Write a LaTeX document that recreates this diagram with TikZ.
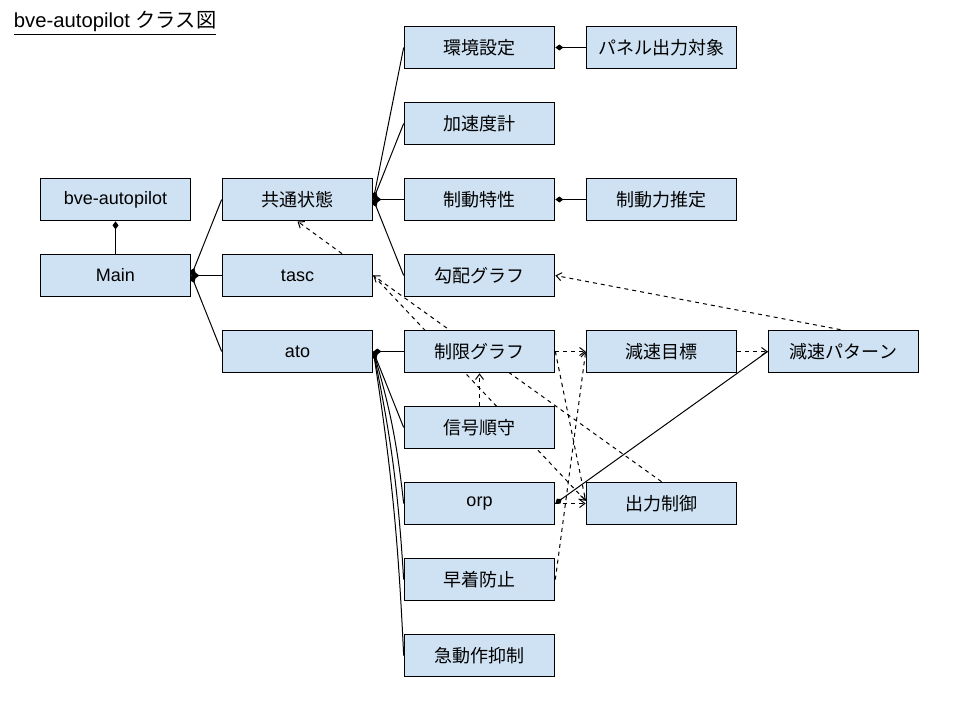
\documentclass[tikz,border=0pt]{standalone}
\usepackage{fontspec}
\setmainfont{Liberation Sans}
\newfontfamily\jpfont{Noto Sans CJK JP}
\usetikzlibrary{arrows.meta,calc,backgrounds}
\definecolor{boxblue}{HTML}{CFE2F3}

\begin{document}
\begin{tikzpicture}[x=0.75pt,y=-0.75pt,line width=0.75pt,
    cls/.style={draw,fill=boxblue,minimum width=113pt,minimum height=32pt,inner sep=0pt,
        font=\fontsize{13.5}{16}\selectfont},
    owns/.style={line width=0.75pt,{Diamond[length=6pt,width=4.5pt]}-},
    dep/.style={line width=0.75pt,dashed,dash pattern=on 3pt off 3pt,
        -{Straight Barb[length=4pt,width=6pt]}}]
    \useasboundingbox (0,0) rectangle (960,720);
    \node[anchor=base west,font=\fontsize{15.2}{18}\selectfont] (title) at (9,28)
        {\underline{bve-autopilot {\jpfont クラス図}}};

    \node[cls] (bve) at (115.5,199.5) {bve-autopilot};
    \node[cls] (main) at (115.5,275.5) {Main};
    \node[cls] (kyotsu) at (297.5,199.5) {\jpfont 共通状態};
    \node[cls] (tasc) at (297.5,275.5) {tasc};
    \node[cls] (ato) at (297.5,351.5) {ato};

    \node[cls] (kankyo) at (479.5,47.5) {\jpfont 環境設定};
    \node[cls] (kasokudo) at (479.5,123.5) {\jpfont 加速度計};
    \node[cls] (seido) at (479.5,199.5) {\jpfont 制動特性};
    \node[cls] (kobai) at (479.5,275.5) {\jpfont 勾配グラフ};
    \node[cls] (seigen) at (479.5,351.5) {\jpfont 制限グラフ};
    \node[cls] (shingo) at (479.5,427.5) {\jpfont 信号順守};
    \node[cls] (orp) at (479.5,503.5) {orp};
    \node[cls] (sochaku) at (479.5,579.5) {\jpfont 早着防止};
    \node[cls] (kyudosa) at (479.5,655.5) {\jpfont 急動作抑制};

    \node[cls] (panel) at (661.5,47.5) {\jpfont パネル出力対象};
    \node[cls] (seidoryoku) at (661.5,199.5) {\jpfont 制動力推定};
    \node[cls] (gensoku) at (661.5,351.5) {\jpfont 減速目標};
    \node[cls] (shutsuryoku) at (661.5,503.5) {\jpfont 出力制御};
    \node[cls] (pattern) at (843.5,351.5) {\jpfont 減速パターン};

    \begin{pgfonlayer}{background}
    % composition
    \draw[owns] (bve.south) -- (main.north);
    \foreach \n in {kyotsu,tasc,ato}
        \draw[owns] (main.east) -- (\n.west);
    \foreach \n in {kankyo,kasokudo,seido,kobai}
        \draw[owns] (kyotsu.east) -- (\n.west);
    \draw[owns] (kankyo.east) -- (panel.west);
    \draw[owns] (seido.east) -- (seidoryoku.west);
    \draw[owns] (ato.east) -- (seigen.west);
    \draw[owns] (ato.east) -- (shingo.west);
    \draw[owns] (ato.east) to[bend left=5] (orp.west);
    \draw[owns] (ato.east) to[bend left=4] (sochaku.west);
    \draw[owns] (ato.east) to[bend left=3] (kyudosa.west);
    \draw[owns] (orp.east) -- (pattern.west);

    % dependencies
    \draw[dep] ($(tasc.north)+(44.5,0)$) -- (kyotsu.south);
    \draw[dep] (shutsuryoku.north) -- (tasc.east);
    \draw[dep] (tasc.east) -- ([yshift=2pt]shutsuryoku.west);
    \draw[dep] (shingo.north) -- (seigen.south);
    \draw[dep] (seigen.east) -- (gensoku.west);
    \draw[dep] (seigen.east) -- ([yshift=2pt]shutsuryoku.west);
    \draw[dep] (sochaku.east) -- (gensoku.west);
    \draw[dep] (orp.east) -- (shutsuryoku.west);
    \draw[dep] (gensoku.east) -- (pattern.west);
    \draw[dep] ($(pattern.north)+(-3,0)$) -- (kobai.east);
    \end{pgfonlayer}
\end{tikzpicture}
\end{document}
